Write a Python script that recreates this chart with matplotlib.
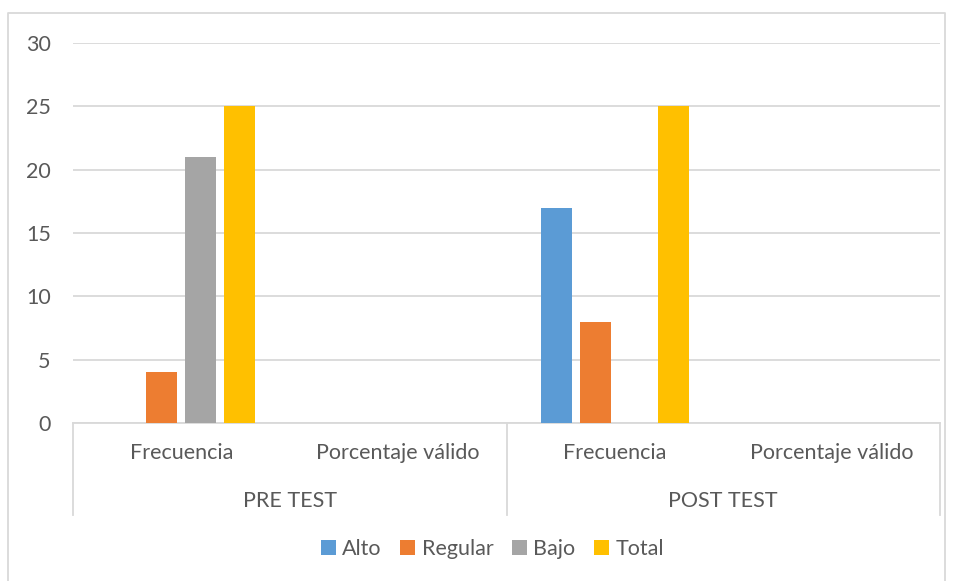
import numpy as np
import matplotlib
matplotlib.use('Agg')
import matplotlib.pyplot as plt
from matplotlib.transforms import blended_transform_factory
from matplotlib.lines import Line2D

plt.rcParams['font.family'] = ['Lato', 'DejaVu Sans']

groups = ['PRE TEST', 'POST TEST']
categories = ['Frecuencia', 'Porcentaje válido']
series = ['Alto', 'Regular', 'Bajo', 'Total']
alto = [0, 0, 17, 0]
regular = [4, 0, 8, 0]
bajo = [21, 0, 0, 0]
total = [25, 0, 25, 0]
colors = ['#5B9BD5', '#ED7D31', '#A5A5A5', '#FFC000']

values = [alto, regular, bajo, total]
txt = '#595959'
grid = '#D9D9D9'
fs = 15.5

fig = plt.figure(figsize=(9.54, 5.81), dpi=100)
ax = fig.add_axes([73/954, 1-423/581, (940-73)/954, (423-43)/581])

n = len(groups) * len(categories)
x = np.arange(n)
step = 0.18
width = 0.143
for j, (name, vals) in enumerate(zip(series, values)):
    ax.bar(x + (j - 1.5) * step, vals, width, color=colors[j], label=name, zorder=3)

ax.set_xlim(-0.5, n - 0.5)
ax.set_ylim(0, 30)
ax.set_yticks(range(0, 31, 5))
ax.yaxis.grid(True, color=grid, linewidth=1.3, zorder=0)
ax.tick_params(axis='y', length=0, pad=16, labelsize=fs, labelcolor=txt)
ax.set_xticks([])
for s in ['top', 'right', 'left']:
    ax.spines[s].set_visible(False)
ax.spines['bottom'].set_color(grid)
ax.spines['bottom'].set_linewidth(1.3)

tr = blended_transform_factory(ax.transData, ax.transAxes)
labels = categories * len(groups)
for i in range(n):
    ax.text(x[i], -0.079, labels[i], transform=tr, ha='center', va='center',
            fontsize=fs, color=txt)
for g, name in enumerate(groups):
    c = g * len(categories) + (len(categories) - 1) / 2
    ax.text(c, -0.205, name, transform=tr, ha='center', va='center',
            fontsize=fs, color=txt)
for b in np.arange(len(groups) + 1) * len(categories) - 0.5:
    ax.add_line(Line2D([b, b], [0, -0.242], transform=tr, color=grid,
                       linewidth=1.3, clip_on=False))

handles, lbls = ax.get_legend_handles_labels()
fig.legend(handles, lbls, loc='center', bbox_to_anchor=(0.516, 1-549/581), ncol=4,
           frameon=False, fontsize=fs, labelcolor=txt, handlelength=0.7,
           handleheight=0.7, handletextpad=0.3, columnspacing=0.85)

# chart border
fig.add_artist(Line2D([8/954, 8/954, 945/954, 945/954], [0, 1-13/581, 1-13/581, 0],
                      transform=fig.transFigure, color=grid, linewidth=1.3))

fig.savefig('out.png', dpi=100)
